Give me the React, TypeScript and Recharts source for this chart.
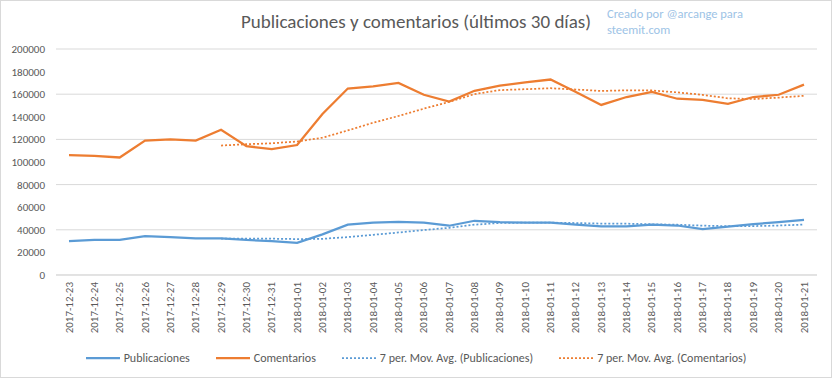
import { LineChart, Line, XAxis, YAxis, CartesianGrid } from "recharts";

// Días (últimos 30)
const fechas = [
    "2017-12-23", "2017-12-24", "2017-12-25", "2017-12-26", "2017-12-27", "2017-12-28",
    "2017-12-29", "2017-12-30", "2017-12-31", "2018-01-01", "2018-01-02", "2018-01-03",
    "2018-01-04", "2018-01-05", "2018-01-06", "2018-01-07", "2018-01-08", "2018-01-09",
    "2018-01-10", "2018-01-11", "2018-01-12", "2018-01-13", "2018-01-14", "2018-01-15",
    "2018-01-16", "2018-01-17", "2018-01-18", "2018-01-19", "2018-01-20", "2018-01-21",
];

const publicaciones = [
    30000, 31000, 31000, 34500, 33500, 32500, 32500, 31000, 30000, 28500,
    36000, 44500, 46300, 47000, 46300, 43600, 48000, 46800, 46300, 46300,
    44500, 43000, 43000, 44500, 43800, 40700, 42800, 45000, 46800, 48800,
];

const comentarios = [
    106000, 105500, 104000, 119000, 120000, 119000, 128500, 114000, 111500, 115000,
    142500, 165000, 167000, 170000, 159500, 153500, 163000, 167500, 170500, 173000,
    162000, 150500, 157500, 162000, 156000, 155000, 151500, 157500, 159500, 168500,
];

// 7 per. Mov. Avg.
const mediaPublicaciones = [
    null, null, null, null, null, null,
    32143, 32286, 32143, 31786, 32000, 33571, 35543, 37614, 39800, 41743,
    44529, 46071, 46329, 46329, 45971, 45500, 45414, 44914, 44486, 43686,
    43186, 43257, 43800, 44629,
];

const mediaComentarios = [
    null, null, null, null, null, null,
    114571, 115714, 116571, 118143, 121500, 127929, 134786, 140714, 147214, 153214,
    160071, 163643, 164429, 165286, 164143, 162857, 163429, 163286, 161643, 159429,
    156357, 155714, 157000, 158571,
];

const yTicks = [0, 20000, 40000, 60000, 80000, 100000, 120000, 140000, 160000, 180000, 200000];

const data = fechas.map((fecha, i) => ({
    fecha,
    publicaciones: publicaciones[i],
    comentarios: comentarios[i],
    mediaPublicaciones: mediaPublicaciones[i],
    mediaComentarios: mediaComentarios[i],
}));

const AZUL = "#5B9BD5";
const NARANJA = "#ED7D31";
const GRIS = "#595959";
const FONT = "Carlito, Lato, 'Liberation Sans', sans-serif";

const leyenda = [
    { label: "Publicaciones", color: AZUL, dotted: false },
    { label: "Comentarios", color: NARANJA, dotted: false },
    { label: "7 per. Mov. Avg. (Publicaciones)", color: AZUL, dotted: true },
    { label: "7 per. Mov. Avg. (Comentarios)", color: NARANJA, dotted: true },
];

const FechaTick = ({ x, y, payload }: any) => (
    <text
        transform={`translate(${x},${y}) rotate(-90)`}
        textAnchor="end"
        dominantBaseline="central"
        fontSize={11}
        fill={GRIS}
        fontFamily={FONT}
    >
        {payload.value}
    </text>
);

export default function App() {
    return (
        <div
            style={{
                position: "fixed",
                left: 0,
                top: 0,
                width: 832,
                height: 378,
                background: "#fff",
                fontFamily: FONT,
            }}
        >
            <div
                style={{
                    position: "absolute",
                    left: 0,
                    top: 0,
                    width: 830,
                    height: 376,
                    border: "1px solid #d9d9d9",
                    pointerEvents: "none",
                }}
            />
            <div
                style={{
                    position: "absolute",
                    left: 0,
                    width: 832,
                    top: 10,
                    textAlign: "center",
                    fontSize: 19,
                    color: GRIS,
                    lineHeight: "24px",
                }}
            >
                Publicaciones y comentarios (últimos 30 días)
            </div>
            <div
                style={{
                    position: "absolute",
                    left: 607,
                    top: 6,
                    fontSize: 12.5,
                    lineHeight: "16px",
                    color: "#9DC3E6",
                }}
            >
                Creado por @arcange para
                <br />
                steemit.com
            </div>

            <LineChart
                width={832}
                height={378}
                data={data}
                margin={{ top: 49, right: 15, bottom: 0, left: 0 }}
            >
                <CartesianGrid vertical={false} stroke="#d9d9d9" />
                <XAxis
                    dataKey="fecha"
                    interval={0}
                    height={103}
                    padding={{ left: 13, right: 13 }}
                    axisLine={{ stroke: "#d9d9d9" }}
                    tickLine={false}
                    tickSize={6}
                    tickMargin={1}
                    tick={<FechaTick />}
                />
                <YAxis
                    width={56}
                    domain={[0, 200000]}
                    ticks={yTicks}
                    axisLine={false}
                    tickLine={false}
                    tickMargin={5}
                    tick={{ fill: GRIS, fontSize: 11, fontFamily: FONT }}
                />
                <Line
                    dataKey="mediaPublicaciones"
                    stroke={AZUL}
                    strokeWidth={1.75}
                    strokeDasharray="2 2"
                    dot={false}
                    isAnimationActive={false}
                />
                <Line
                    dataKey="mediaComentarios"
                    stroke={NARANJA}
                    strokeWidth={1.75}
                    strokeDasharray="2 2"
                    dot={false}
                    isAnimationActive={false}
                />
                <Line
                    dataKey="publicaciones"
                    stroke={AZUL}
                    strokeWidth={2.25}
                    dot={false}
                    isAnimationActive={false}
                />
                <Line
                    dataKey="comentarios"
                    stroke={NARANJA}
                    strokeWidth={2.25}
                    dot={false}
                    isAnimationActive={false}
                />
            </LineChart>

            <div
                style={{
                    position: "absolute",
                    left: 0,
                    width: 832,
                    top: 350,
                    display: "flex",
                    justifyContent: "center",
                    gap: 26,
                    fontSize: 12,
                    color: GRIS,
                    lineHeight: "16px",
                }}
            >
                {leyenda.map((item) => (
                    <div key={item.label} style={{ display: "flex", alignItems: "center" }}>
                        <svg width={34} height={10} style={{ marginRight: 4 }}>
                            <line
                                x1={0}
                                y1={5}
                                x2={34}
                                y2={5}
                                stroke={item.color}
                                strokeWidth={item.dotted ? 1.75 : 2.25}
                                strokeDasharray={item.dotted ? "2 2" : undefined}
                            />
                        </svg>
                        <span>{item.label}</span>
                    </div>
                ))}
            </div>
        </div>
    );
}
